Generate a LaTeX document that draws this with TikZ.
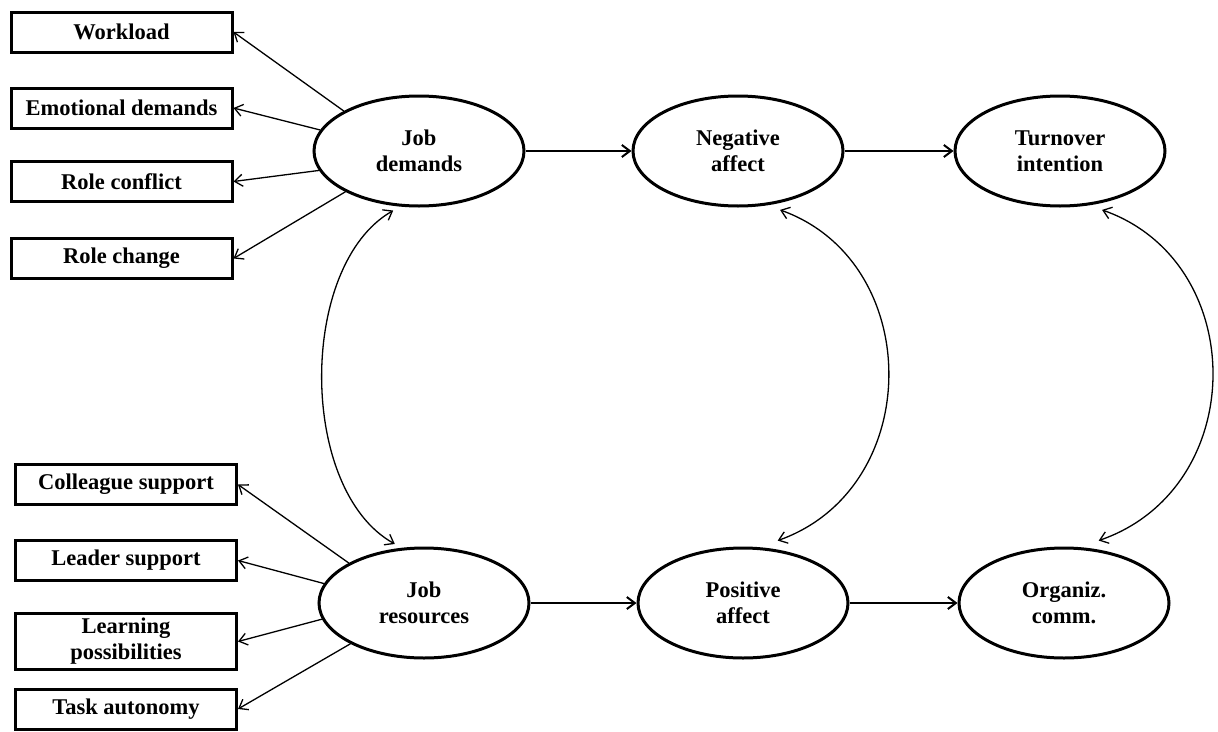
\documentclass[tikz,border=0pt]{standalone}
\usepackage{fontspec}
\setmainfont{Liberation Serif}
\usetikzlibrary{shapes.geometric,arrows.meta}
\begin{document}
\begin{tikzpicture}[x=1pt,y=-1pt,
  every node/.style={font=\fontsize{22.5}{26}\selectfont\bfseries, align=center},
  itembox/.style={draw, line width=3pt, minimum width=221pt, minimum height=40pt, inner sep=0pt},
  latent/.style={draw, ellipse, line width=3pt, minimum width=210pt, minimum height=110pt, inner sep=0pt},
  path/.style={-{Straight Barb[length=8pt,width=12pt]}, line width=1.3pt},
  main/.style={-{Straight Barb[length=8pt,width=12pt]}, line width=2pt},
  cov/.style={{Straight Barb[length=8pt,width=12pt]}-{Straight Barb[length=8pt,width=12pt]}, line width=1.3pt}]
\useasboundingbox (0,0) rectangle (1218,731);

% indicator boxes
\node[itembox] (wl) at (121.5,32) {Workload};
\node[itembox] (ed) at (121.5,108) {Emotional demands};
\node[itembox] (rc) at (121.5,181.5) {Role conflict};
\node[itembox] (rch) at (121.5,258.5) {Role change};
\node[itembox] (cs) at (126,484.5) {Colleague support};
\node[itembox] (ls) at (126,560.5) {Leader support};
\node[itembox, minimum height=56pt] (lp) at (126,641.5) {Learning\\possibilities};
\node[itembox] (ta) at (126,709) {Task autonomy};

% latent variables
\node[latent] (jd) at (419,151) {Job\\demands};
\node[latent] (na) at (738,151) {Negative\\affect};
\node[latent] (ti) at (1060,151) {Turnover\\intention};
\node[latent] (jr) at (424,603) {Job\\resources};
\node[latent] (pa) at (743,603) {Positive\\affect};
\node[latent] (oc) at (1064,603) {Organiz.\\comm.};

% measurement paths
\draw[path] (jd.152) -- (wl.east);
\draw[path] (jd.168) -- (ed.east);
\draw[path] (jd.191) -- (rc.east);
\draw[path] (jd.209) -- (rch.east);
\draw[path] (jr.152) -- (cs.east);
\draw[path] (jr.169) -- (ls.east);
\draw[path] (jr.189) -- (lp.east);
\draw[path] (jr.209) -- (ta.east);

% structural paths
\draw[main] (jd.east) -- (na.west);
\draw[main] (na.east) -- (ti.west);
\draw[main] (jr.east) -- (pa.west);
\draw[main] (pa.east) -- (oc.west);

% covariances
\draw[cov] ([shift={(2,5)}]jd.243) .. controls (298,265) and (298,490) .. ([shift={(2,-5)}]jr.120);
\draw[cov] ([shift={(0,7)}]na.309) .. controls (925,262) and (925,488) .. ([shift={(0,-9)}]pa.57);
\draw[cov] ([shift={(0,7)}]ti.309) .. controls (1250,262) and (1250,488) .. ([shift={(0,-9)}]oc.57);
\end{tikzpicture}
\end{document}
